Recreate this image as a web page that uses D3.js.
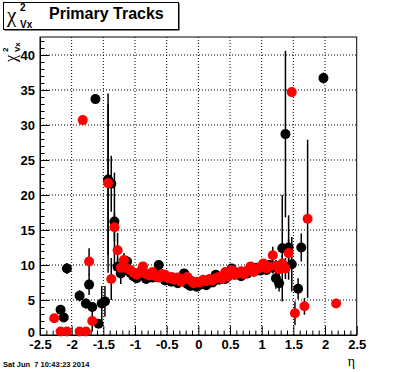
<!DOCTYPE html>
<html>
<head>
<meta charset="utf-8">
<script src="https://cdn.jsdelivr.net/npm/d3@7"></script>
<style>
  body { margin: 0; background: #fff; }
  svg { display: block; }
</style>
</head>
<body>
<div id="chart"></div>
<script>
// black series (eta bin centre, chi2, error)
const blackEta = [-2.175, -2.125, -2.075, -1.875, -1.775, -1.725, -1.675, -1.625, -1.575, -1.525, -1.475, -1.425, -1.375, -1.325, -1.275,
  -1.225, -1.175, -1.125, -1.075, -1.025, -0.975, -0.925, -0.875, -0.825, -0.775, -0.725, -0.675, -0.625, -0.575, -0.525, -0.475, -0.425,
  -0.375, -0.325, -0.275, -0.225, -0.175, -0.125, -0.075, -0.025, 0.025, 0.075, 0.125, 0.175, 0.225, 0.275, 0.325, 0.375, 0.425, 0.475,
  0.525, 0.575, 0.625, 0.675, 0.725, 0.775, 0.825, 0.875, 0.925, 0.975, 1.025, 1.075, 1.125, 1.175, 1.225, 1.275,
  1.325, 1.375, 1.425, 1.475, 1.575, 1.625, 1.975];
const blackChi2 = [3.6, 2.5, 9.5, 5.6, 4.5, 7.2, 4.0, 33.7, 1.6, 4.5, 4.8, 22.2, 21.6, 16.2, 9.75,
  8.8, 9.3, 10.5, 8.9, 8.4, 8.1, 8.7, 8.5, 8.0, 8.6, 8.2, 8.9, 10.0, 8.3, 7.8, 8.1, 7.6,
  7.9, 7.4, 8.0, 8.8, 7.3, 7.0, 7.5, 6.9, 7.2, 7.6, 7.1, 7.8, 7.5, 8.6, 7.9, 8.2, 8.0, 8.7,
  9.5, 8.6, 8.9, 8.4, 9.0, 8.8, 9.4, 9.1, 9.6, 9.2, 9.8, 9.3, 10.0, 9.6, 8.1, 7.4,
  12.4, 28.7, 12.5, 10.1, 6.6, 12.5, 36.7];
const blackErr = [0.6, 0.6, 0.8, 0.8, 0.7, 1.5, 0.7, 0.5, 0.6, 2.5, 2.2, 10.8, 4.0, 7.0, 1.2,
  1.5, 1.0, 0.8, 0.6, 0.5, 0.5, 0.4, 0.4, 0.4, 0.4, 0.4, 0.4, 0.5, 0.4, 0.4, 0.4, 0.3,
  0.3, 0.3, 0.3, 0.4, 0.3, 0.3, 0.3, 0.3, 0.3, 0.3, 0.3, 0.3, 0.3, 0.4, 0.3, 0.3, 0.4, 0.4,
  0.5, 0.4, 0.4, 0.4, 0.5, 0.5, 0.5, 0.5, 0.6, 0.6, 0.6, 0.7, 0.7, 0.8, 1.5, 1.2,
  7.6, 11.9, 4.6, 3.9, 1.5, 2.0, 0.8];

// red series
const redEta = [-2.275, -2.175, -2.075, -1.875, -1.825, -1.775, -1.725, -1.675, -1.425, -1.375, -1.325, -1.275,
  -1.225, -1.175, -1.125, -1.075, -1.025, -0.975, -0.925, -0.875, -0.825, -0.775, -0.725, -0.675, -0.625, -0.575,
  -0.525, -0.475, -0.425, -0.375, -0.325, -0.275, -0.225, -0.175, -0.125, -0.075, -0.025, 0.025, 0.075, 0.125,
  0.175, 0.225, 0.275, 0.325, 0.375, 0.425, 0.475, 0.525, 0.575, 0.625, 0.675, 0.725, 0.775, 0.825, 0.875,
  0.925, 0.975, 1.025, 1.075, 1.125, 1.175, 1.225, 1.275, 1.325, 1.375, 1.425,
  1.475, 1.525, 1.675, 1.725, 2.175];
const redChi2 = [2.4, 0.5, 0.5, 0.5, 30.7, 0.5, 10.5, 2.0, 21.7, 8.0, 15.4, 12.1,
  9.6, 10.7, 9.5, 9.3, 8.9, 8.6, 9.0, 9.8, 8.7, 8.5, 9.0, 8.4, 8.2, 8.7,
  8.6, 8.1, 8.3, 7.9, 8.2, 7.6, 8.0, 8.3, 7.8, 7.4, 7.6, 7.5, 7.9, 7.7,
  8.0, 7.8, 8.1, 8.3, 8.0, 9.0, 8.4, 9.3, 8.6, 8.8, 9.1, 8.7, 9.2, 9.8, 9.0,
  9.4, 9.7, 10.2, 9.5, 9.8, 11.4, 9.9, 9.4, 10.2, 9.5, 11.7,
  34.7, 3.1, 4.1, 16.6, 4.5];
const redErr = [0.4, 0.3, 0.3, 0.3, 0.6, 0.3, 1.9, 1.5, 12.8, 3.0, 2.0, 2.5,
  1.2, 1.0, 0.8, 0.6, 0.5, 0.5, 0.4, 0.4, 0.4, 0.4, 0.4, 0.4, 0.4, 0.4,
  0.4, 0.3, 0.3, 0.3, 0.3, 0.3, 0.3, 0.3, 0.3, 0.3, 0.3, 0.3, 0.3, 0.3,
  0.3, 0.3, 0.3, 0.3, 0.3, 0.4, 0.4, 0.4, 0.4, 0.4, 0.4, 0.4, 0.5, 0.5, 0.5,
  0.5, 0.6, 0.6, 0.6, 0.7, 1.2, 0.8, 1.0, 1.2, 1.5, 2.0,
  0.7, 1.7, 1.2, 11.3, 0.5];

const xTicks = [-2.5, -2, -1.5, -1, -0.5, 0, 0.5, 1, 1.5, 2, 2.5];
const yTicks = [0, 5, 10, 15, 20, 25, 30, 35, 40];

const W = 396, H = 372;
const frame = { left: 40, right: 356.7, top: 37, bottom: 335 };
const labelFont = "Liberation Sans, Arial, sans-serif";

const svg = d3.select("#chart").append("svg").attr("width", W).attr("height", H);

const x = d3.scaleLinear().domain([-2.5, 2.5]).range([frame.left, frame.right]);
const y = d3.scaleLinear().domain([0, 42.57]).range([frame.bottom, frame.top]);

// minor ticks: 5 per major division
const xMinor = d3.range(-25, 26).map((d) => d / 10).filter((d) => Math.abs(d * 2 - Math.round(d * 2)) > 1e-6);
const yMinor = d3.range(0, 43).filter((d) => d % 5 !== 0);

// grid (dotted)
svg.append("g").selectAll("line").data(xTicks.slice(1, -1)).enter().append("line")
  .attr("x1", (d) => x(d)).attr("x2", (d) => x(d))
  .attr("y1", frame.top).attr("y2", frame.bottom)
  .attr("stroke", "#000").attr("stroke-width", 1).attr("stroke-dasharray", "1,2");
svg.append("g").selectAll("line").data(yTicks.slice(1)).enter().append("line")
  .attr("x1", frame.left).attr("x2", frame.right)
  .attr("y1", (d) => y(d)).attr("y2", (d) => y(d))
  .attr("stroke", "#000").attr("stroke-width", 1).attr("stroke-dasharray", "1,2");

// X axis
svg.append("g").attr("transform", `translate(0,${frame.bottom})`)
  .call(d3.axisBottom(x).tickValues(xTicks).tickSizeInner(-9).tickSizeOuter(0).tickPadding(5).tickFormat((d) => String(d)));
svg.append("g").attr("transform", `translate(0,${frame.bottom})`)
  .call(d3.axisBottom(x).tickValues(xMinor).tickSizeInner(-4.5).tickSizeOuter(0).tickFormat(""))
  .select(".domain").remove();

// Y axis
const yAxis = svg.append("g").attr("transform", `translate(${frame.left},0)`)
  .call(d3.axisLeft(y).tickValues(yTicks).tickSizeInner(-9).tickSizeOuter(0).tickPadding(5).tickFormat((d) => String(d)));
svg.append("g").attr("transform", `translate(${frame.left},0)`)
  .call(d3.axisLeft(y).tickValues(yMinor).tickSizeInner(-4.5).tickSizeOuter(0).tickFormat(""))
  .select(".domain").remove();

svg.selectAll(".tick text")
  .style("font-family", labelFont).style("font-weight", "bold").style("font-size", "13px").attr("fill", "#000");

// lift the "0" label a bit so it clears the x labels
yAxis.selectAll(".tick text").filter((d) => d === 0).attr("dy", "0.1em");

// frame
svg.append("rect")
  .attr("x", frame.left).attr("y", frame.top)
  .attr("width", frame.right - frame.left).attr("height", frame.bottom - frame.top)
  .attr("fill", "none").attr("stroke", "#000").attr("stroke-width", 1);

// draw one series: error bars then markers
function drawSeries(etas, vals, errs, color) {
  const pts = etas.map((e, i) => ({ eta: e, v: vals[i], err: errs[i] }));
  const g = svg.append("g");
  g.selectAll("line").data(pts).enter().append("line")
    .attr("x1", (d) => x(d.eta)).attr("x2", (d) => x(d.eta))
    .attr("y1", (d) => y(Math.max(0, d.v - d.err)))
    .attr("y2", (d) => y(Math.min(42.57, d.v + d.err)))
    .attr("stroke", "#000").attr("stroke-width", 1.5);
  g.selectAll("circle").data(pts).enter().append("circle")
    .attr("cx", (d) => x(d.eta)).attr("cy", (d) => y(d.v))
    .attr("r", 5).attr("fill", color);
}
drawSeries(blackEta, blackChi2, blackErr, "#000");
drawSeries(redEta, redChi2, redErr, "#ff0000");

// title box
svg.append("rect").attr("x", 4.5).attr("y", 3.5).attr("width", 175).attr("height", 27).attr("fill", "#000");
svg.append("rect").attr("x", 3.5).attr("y", 2.5).attr("width", 175).attr("height", 27)
  .attr("fill", "#fff").attr("stroke", "#000").attr("stroke-width", 1);

function chiLabel(g, big, small, supDx, supDy, subDy) {
  g.append("text").attr("x", 0).attr("y", 0)
    .style("font-family", "Liberation Serif, serif").style("font-size", big + "px").text("χ");
  g.append("text").attr("x", supDx).attr("y", supDy)
    .style("font-family", labelFont).style("font-weight", "bold").style("font-size", small + "px").text("2");
  g.append("text").attr("x", supDx).attr("y", subDy)
    .style("font-family", labelFont).style("font-weight", "bold").style("font-size", small + "px").text("Vx");
}
chiLabel(svg.append("g").attr("transform", "translate(7,22)"), 21, 10, 13, -11, 6);
svg.append("text").attr("x", 49).attr("y", 18.5)
  .style("font-family", labelFont).style("font-weight", "bold").style("font-size", "16px")
  .text("Primary Tracks");

// y title (rotated)
chiLabel(svg.append("g").attr("transform", "translate(16,62) rotate(-90)"), 16, 8, 10, -8, 4);

// x title
svg.append("text").attr("x", 355).attr("y", 366).attr("text-anchor", "end")
  .style("font-family", "Liberation Serif, serif").style("font-size", "14px").text("η");

// date stamp
svg.append("text").attr("x", 3).attr("y", 367)
  .style("font-family", labelFont).style("font-weight", "bold").style("font-size", "7.5px")
  .style("white-space", "pre")
  .text("Sat Jun  7 10:43:23 2014");
</script>
</body>
</html>
